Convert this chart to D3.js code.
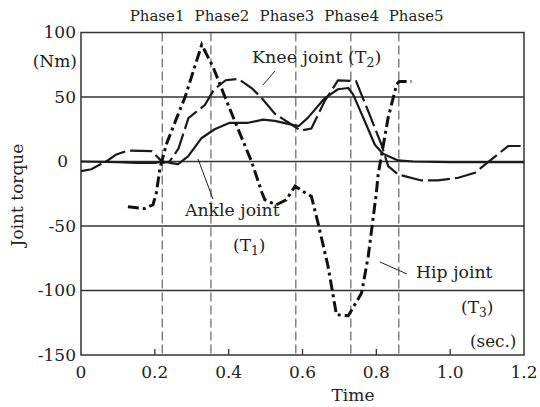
<!DOCTYPE html>
<html>
<head>
<meta charset="utf-8">
<script src="https://cdn.jsdelivr.net/npm/d3@7"></script>
<style>
  body { margin: 0; background: #fff; }
  svg text { fill: #222; font-family: "DejaVu Serif", serif; }
</style>
</head>
<body>
<svg id="chart" width="540" height="407"></svg>
<script>
// joint torque curves, [time (sec), torque (Nm)]
const ankle = [
  [0, 0], [0.1, -0.5], [0.15, -1], [0.2, -1], [0.222, 0], [0.24, -1], [0.263, -2],
  [0.29, 4], [0.326, 18], [0.362, 25], [0.403, 30], [0.453, 30], [0.493, 32.5],
  [0.525, 31.5], [0.579, 28], [0.59, 27.5], [0.615, 34], [0.66, 49], [0.696, 56],
  [0.724, 57], [0.737, 52], [0.769, 31], [0.796, 13], [0.818, 6], [0.859, 0.8],
  [0.9, 0], [1.0, -0.5], [1.2, -0.5]
];
const knee = [
  [0, -7.5], [0.028, -6], [0.073, 1], [0.096, 5.5], [0.127, 8.5], [0.192, 8],
  [0.209, 3], [0.222, -1], [0.24, 0], [0.264, 10], [0.291, 33.6], [0.336, 44],
  [0.36, 55.7], [0.392, 63], [0.426, 64], [0.464, 56.5], [0.49, 49], [0.525, 37],
  [0.57, 28.7], [0.595, 24], [0.624, 25.6], [0.66, 46.8], [0.696, 62.8], [0.745, 62.3],
  [0.778, 39], [0.814, 13], [0.832, -3.6], [0.859, -10], [0.922, -14.7], [0.967, -14.7],
  [1.022, -12.6], [1.067, -8.8], [1.112, 1.6], [1.157, 12], [1.2, 12]
];
const hip = [
  [0.127, -35], [0.172, -36.5], [0.195, -33.5], [0.204, -24.5], [0.214, -5],
  [0.232, 14], [0.259, 33.6], [0.282, 50], [0.327, 90.5], [0.358, 73], [0.39, 50],
  [0.43, 22], [0.462, 0], [0.49, -24], [0.498, -29.7], [0.529, -33.6], [0.556, -29.7],
  [0.58, -19], [0.6, -23], [0.624, -27], [0.642, -47.6], [0.669, -81], [0.692, -118.8],
  [0.724, -119.6], [0.76, -102], [0.778, -73.6], [0.8, -24.5], [0.805, -10],
  [0.832, 34], [0.855, 59.7], [0.862, 62], [0.895, 62]
];

const phaseLines = [0.22, 0.352, 0.582, 0.731, 0.861];
const phaseLabels = ["Phase1", "Phase2", "Phase3", "Phase4", "Phase5"];
const phaseLabelTimes = [0.206, 0.382, 0.558, 0.733, 0.908];

const xTicks = [0, 0.2, 0.4, 0.6, 0.8, 1.0, 1.2];
const xTickLabels = ["0", "0.2", "0.4", "0.6", "0.8", "1.0", "1.2"];
const yTicks = [100, 50, 0, -50, -100, -150];
const yGrid = [50, 0, -50, -100];

const svg = d3.select("#chart");
const plotLeft = 81, plotRight = 524, plotTop = 32.5, plotBottom = 355;

const x = d3.scaleLinear().domain([0, 1.2]).range([plotLeft, plotRight]);
const y = d3.scaleLinear().domain([-150, 100]).range([plotBottom, plotTop]);

// grid lines
svg.selectAll(".grid")
  .data(yGrid)
  .enter()
  .append("line")
  .attr("x1", plotLeft)
  .attr("x2", plotRight)
  .attr("y1", (d) => y(d))
  .attr("y2", (d) => y(d))
  .attr("stroke", "#333")
  .attr("stroke-width", 1.3);

// phase boundaries
svg.selectAll(".phase")
  .data(phaseLines)
  .enter()
  .append("line")
  .attr("x1", (d) => x(d))
  .attr("x2", (d) => x(d))
  .attr("y1", plotTop)
  .attr("y2", plotBottom)
  .attr("stroke", "#444")
  .attr("stroke-width", 1)
  .attr("stroke-dasharray", "9,4");

svg.selectAll(".phaseLabel")
  .data(phaseLabels)
  .enter()
  .append("text")
  .text((d) => d)
  .attr("x", (d, i) => x(phaseLabelTimes[i]))
  .attr("y", 21)
  .attr("text-anchor", "middle")
  .attr("font-size", 15);

// bottom ticks pointing inward
svg.selectAll(".xtick")
  .data(xTicks.slice(1, -1))
  .enter()
  .append("line")
  .attr("x1", (d) => x(d))
  .attr("x2", (d) => x(d))
  .attr("y1", plotBottom)
  .attr("y2", plotBottom - 6)
  .attr("stroke", "#333")
  .attr("stroke-width", 1.3);

svg.selectAll(".xlabel")
  .data(xTicks)
  .enter()
  .append("text")
  .text((d, i) => xTickLabels[i])
  .attr("x", (d) => x(d))
  .attr("y", 378)
  .attr("text-anchor", "middle")
  .attr("font-size", 17);

svg.selectAll(".ylabel")
  .data(yTicks)
  .enter()
  .append("text")
  .text((d) => d)
  .attr("x", (d) => (d === 0 ? 68 : 76))
  .attr("y", (d) => y(d))
  .attr("dy", "0.35em")
  .attr("text-anchor", "end")
  .attr("font-size", 17);

// plot frame
svg.append("rect")
  .attr("x", plotLeft)
  .attr("y", plotTop)
  .attr("width", plotRight - plotLeft)
  .attr("height", plotBottom - plotTop)
  .attr("fill", "none")
  .attr("stroke", "#333")
  .attr("stroke-width", 1.5);

const line = d3.line()
  .x((d) => x(d[0]))
  .y((d) => y(d[1]));

svg.append("path")
  .datum(ankle)
  .attr("d", line)
  .attr("fill", "none")
  .attr("stroke", "#1a1a1a")
  .attr("stroke-width", 2.2)
  .attr("stroke-linejoin", "round");

svg.append("path")
  .datum(knee)
  .attr("d", line)
  .attr("fill", "none")
  .attr("stroke", "#1a1a1a")
  .attr("stroke-width", 2.2)
  .attr("stroke-dasharray", "22,5");

svg.append("path")
  .datum(hip)
  .attr("d", line)
  .attr("fill", "none")
  .attr("stroke", "#111")
  .attr("stroke-width", 3)
  .attr("stroke-dasharray", "11,4,3,4");

// pointer lines for curve labels
const pointers = [
  [198, 159, 213, 199],
  [275, 71, 263, 85],
  [380, 262, 407, 274]
];
svg.selectAll(".pointer")
  .data(pointers)
  .enter()
  .append("line")
  .attr("x1", (d) => d[0])
  .attr("y1", (d) => d[1])
  .attr("x2", (d) => d[2])
  .attr("y2", (d) => d[3])
  .attr("stroke", "#222")
  .attr("stroke-width", 1);

function label(txt, sub, xPos, yPos, size) {
  const t = svg.append("text")
    .attr("x", xPos)
    .attr("y", yPos)
    .attr("font-size", size);
  t.append("tspan").text(txt);
  if (sub) {
    t.append("tspan").text(sub).attr("font-size", size * 0.72).attr("dy", 4);
    t.append("tspan").text(")").attr("dy", -4);
  }
  return t;
}

label("Knee joint  (T", "2", 252, 63, 17.5);
label("Ankle joint", null, 185, 216, 17.3);
label("(T", "1", 233, 251, 17);
label("Hip joint", null, 416, 278, 17.3);
label("(T", "3", 461, 313, 17);
label("(sec.)", null, 470, 347, 16.8);

svg.append("text")
  .text("(Nm)")
  .attr("x", 77)
  .attr("y", 67)
  .attr("text-anchor", "end")
  .attr("font-size", 17);

svg.append("text")
  .text("Time")
  .attr("x", 353)
  .attr("y", 401)
  .attr("text-anchor", "middle")
  .attr("font-size", 17);

svg.append("text")
  .text("Joint torque")
  .attr("transform", "translate(23,195) rotate(-90)")
  .attr("text-anchor", "middle")
  .attr("font-size", 17);
</script>
</body>
</html>
